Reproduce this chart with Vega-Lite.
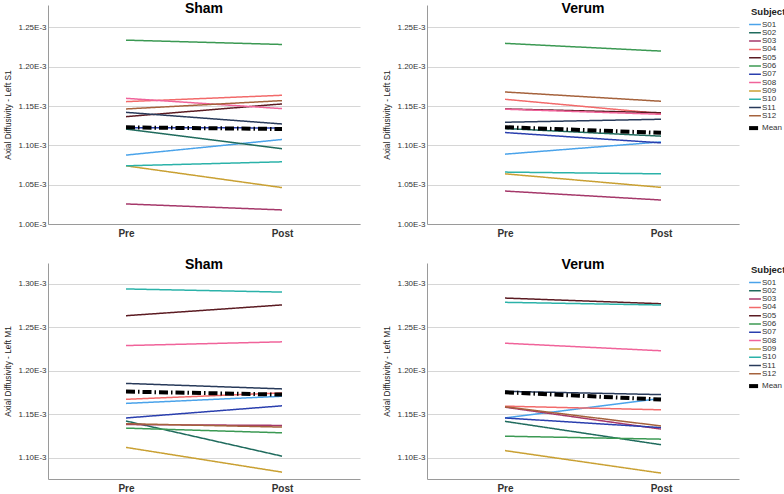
{
  "$schema": "https://vega.github.io/schema/vega-lite/v6.json",
  "padding": {"left": 3, "top": 1, "right": 0, "bottom": 0},
  "background": "white",
  "datasets": {
    "d": [
      {"r":"S1","c":"Sham","t":"Pre","s":"S01","v":1.0876e-3},{"r":"S1","c":"Sham","t":"Post","s":"S01","v":1.1075e-3},
      {"r":"S1","c":"Sham","t":"Pre","s":"S02","v":1.1208e-3},{"r":"S1","c":"Sham","t":"Post","s":"S02","v":1.0957e-3},
      {"r":"S1","c":"Sham","t":"Pre","s":"S03","v":1.0255e-3},{"r":"S1","c":"Sham","t":"Post","s":"S03","v":1.0179e-3},
      {"r":"S1","c":"Sham","t":"Pre","s":"S04","v":1.1556e-3},{"r":"S1","c":"Sham","t":"Post","s":"S04","v":1.1637e-3},
      {"r":"S1","c":"Sham","t":"Pre","s":"S05","v":1.1365e-3},{"r":"S1","c":"Sham","t":"Post","s":"S05","v":1.1527e-3},
      {"r":"S1","c":"Sham","t":"Pre","s":"S06","v":1.2338e-3},{"r":"S1","c":"Sham","t":"Post","s":"S06","v":1.2283e-3},
      {"r":"S1","c":"Sham","t":"Pre","s":"S07","v":1.1224e-3},{"r":"S1","c":"Sham","t":"Post","s":"S07","v":1.1222e-3},
      {"r":"S1","c":"Sham","t":"Pre","s":"S08","v":1.1598e-3},{"r":"S1","c":"Sham","t":"Post","s":"S08","v":1.1467e-3},
      {"r":"S1","c":"Sham","t":"Pre","s":"S09","v":1.0740e-3},{"r":"S1","c":"Sham","t":"Post","s":"S09","v":1.0463e-3},
      {"r":"S1","c":"Sham","t":"Pre","s":"S10","v":1.0740e-3},{"r":"S1","c":"Sham","t":"Post","s":"S10","v":1.0791e-3},
      {"r":"S1","c":"Sham","t":"Pre","s":"S11","v":1.1420e-3},{"r":"S1","c":"Sham","t":"Post","s":"S11","v":1.1272e-3},
      {"r":"S1","c":"Sham","t":"Pre","s":"S12","v":1.1463e-3},{"r":"S1","c":"Sham","t":"Post","s":"S12","v":1.1569e-3},
      {"r":"S1","c":"Sham","t":"Pre","s":"Mean","v":1.1229e-3},{"r":"S1","c":"Sham","t":"Post","s":"Mean","v":1.1208e-3},

      {"r":"S1","c":"Verum","t":"Pre","s":"S01","v":1.0888e-3},{"r":"S1","c":"Verum","t":"Post","s":"S01","v":1.1044e-3},
      {"r":"S1","c":"Verum","t":"Pre","s":"S02","v":1.1214e-3},{"r":"S1","c":"Verum","t":"Post","s":"S02","v":1.1117e-3},
      {"r":"S1","c":"Verum","t":"Pre","s":"S03","v":1.0419e-3},{"r":"S1","c":"Verum","t":"Post","s":"S03","v":1.0305e-3},
      {"r":"S1","c":"Verum","t":"Pre","s":"S04","v":1.1586e-3},{"r":"S1","c":"Verum","t":"Post","s":"S04","v":1.1405e-3},
      {"r":"S1","c":"Verum","t":"Pre","s":"S05","v":1.1463e-3},{"r":"S1","c":"Verum","t":"Post","s":"S05","v":1.1415e-3},
      {"r":"S1","c":"Verum","t":"Pre","s":"S06","v":1.2297e-3},{"r":"S1","c":"Verum","t":"Post","s":"S06","v":1.2199e-3},
      {"r":"S1","c":"Verum","t":"Pre","s":"S07","v":1.1163e-3},{"r":"S1","c":"Verum","t":"Post","s":"S07","v":1.1032e-3},
      {"r":"S1","c":"Verum","t":"Pre","s":"S08","v":1.1460e-3},{"r":"S1","c":"Verum","t":"Post","s":"S08","v":1.1395e-3},
      {"r":"S1","c":"Verum","t":"Pre","s":"S09","v":1.0638e-3},{"r":"S1","c":"Verum","t":"Post","s":"S09","v":1.0466e-3},
      {"r":"S1","c":"Verum","t":"Pre","s":"S10","v":1.0660e-3},{"r":"S1","c":"Verum","t":"Post","s":"S10","v":1.0638e-3},
      {"r":"S1","c":"Verum","t":"Pre","s":"S11","v":1.1294e-3},{"r":"S1","c":"Verum","t":"Post","s":"S11","v":1.1332e-3},
      {"r":"S1","c":"Verum","t":"Pre","s":"S12","v":1.1679e-3},{"r":"S1","c":"Verum","t":"Post","s":"S12","v":1.1561e-3},
      {"r":"S1","c":"Verum","t":"Pre","s":"Mean","v":1.1231e-3},{"r":"S1","c":"Verum","t":"Post","s":"Mean","v":1.1159e-3},

      {"r":"M1","c":"Sham","t":"Pre","s":"S01","v":1.1624e-3},{"r":"M1","c":"Sham","t":"Post","s":"S01","v":1.1706e-3},
      {"r":"M1","c":"Sham","t":"Pre","s":"S02","v":1.1421e-3},{"r":"M1","c":"Sham","t":"Post","s":"S02","v":1.1016e-3},
      {"r":"M1","c":"Sham","t":"Pre","s":"S03","v":1.1380e-3},{"r":"M1","c":"Sham","t":"Post","s":"S03","v":1.1370e-3},
      {"r":"M1","c":"Sham","t":"Pre","s":"S04","v":1.1671e-3},{"r":"M1","c":"Sham","t":"Post","s":"S04","v":1.1745e-3},
      {"r":"M1","c":"Sham","t":"Pre","s":"S05","v":1.2634e-3},{"r":"M1","c":"Sham","t":"Post","s":"S05","v":1.2758e-3},
      {"r":"M1","c":"Sham","t":"Pre","s":"S06","v":1.1339e-3},{"r":"M1","c":"Sham","t":"Post","s":"S06","v":1.1285e-3},
      {"r":"M1","c":"Sham","t":"Pre","s":"S07","v":1.1456e-3},{"r":"M1","c":"Sham","t":"Post","s":"S07","v":1.1596e-3},
      {"r":"M1","c":"Sham","t":"Pre","s":"S08","v":1.2290e-3},{"r":"M1","c":"Sham","t":"Post","s":"S08","v":1.2333e-3},
      {"r":"M1","c":"Sham","t":"Pre","s":"S09","v":1.1117e-3},{"r":"M1","c":"Sham","t":"Post","s":"S09","v":1.0832e-3},
      {"r":"M1","c":"Sham","t":"Pre","s":"S10","v":1.2942e-3},{"r":"M1","c":"Sham","t":"Post","s":"S10","v":1.2906e-3},
      {"r":"M1","c":"Sham","t":"Pre","s":"S11","v":1.1854e-3},{"r":"M1","c":"Sham","t":"Post","s":"S11","v":1.1791e-3},
      {"r":"M1","c":"Sham","t":"Pre","s":"S12","v":1.1390e-3},{"r":"M1","c":"Sham","t":"Post","s":"S12","v":1.1351e-3},
      {"r":"M1","c":"Sham","t":"Pre","s":"Mean","v":1.1760e-3},{"r":"M1","c":"Sham","t":"Post","s":"Mean","v":1.1725e-3},

      {"r":"M1","c":"Verum","t":"Pre","s":"S01","v":1.1456e-3},{"r":"M1","c":"Verum","t":"Post","s":"S01","v":1.1681e-3},
      {"r":"M1","c":"Verum","t":"Pre","s":"S02","v":1.1417e-3},{"r":"M1","c":"Verum","t":"Post","s":"S02","v":1.1148e-3},
      {"r":"M1","c":"Verum","t":"Pre","s":"S03","v":1.1580e-3},{"r":"M1","c":"Verum","t":"Post","s":"S03","v":1.1328e-3},
      {"r":"M1","c":"Verum","t":"Pre","s":"S04","v":1.1592e-3},{"r":"M1","c":"Verum","t":"Post","s":"S04","v":1.1550e-3},
      {"r":"M1","c":"Verum","t":"Pre","s":"S05","v":1.2837e-3},{"r":"M1","c":"Verum","t":"Post","s":"S05","v":1.2772e-3},
      {"r":"M1","c":"Verum","t":"Pre","s":"S06","v":1.1246e-3},{"r":"M1","c":"Verum","t":"Post","s":"S06","v":1.1212e-3},
      {"r":"M1","c":"Verum","t":"Pre","s":"S07","v":1.1456e-3},{"r":"M1","c":"Verum","t":"Post","s":"S07","v":1.1345e-3},
      {"r":"M1","c":"Verum","t":"Pre","s":"S08","v":1.2317e-3},{"r":"M1","c":"Verum","t":"Post","s":"S08","v":1.2230e-3},
      {"r":"M1","c":"Verum","t":"Pre","s":"S09","v":1.1080e-3},{"r":"M1","c":"Verum","t":"Post","s":"S09","v":1.0821e-3},
      {"r":"M1","c":"Verum","t":"Pre","s":"S10","v":1.2788e-3},{"r":"M1","c":"Verum","t":"Post","s":"S10","v":1.2757e-3},
      {"r":"M1","c":"Verum","t":"Pre","s":"S11","v":1.1763e-3},{"r":"M1","c":"Verum","t":"Post","s":"S11","v":1.1725e-3},
      {"r":"M1","c":"Verum","t":"Pre","s":"S12","v":1.1585e-3},{"r":"M1","c":"Verum","t":"Post","s":"S12","v":1.1364e-3},
      {"r":"M1","c":"Verum","t":"Pre","s":"Mean","v":1.1752e-3},{"r":"M1","c":"Verum","t":"Post","s":"Mean","v":1.1668e-3}
    ]
  },
  "config": {
    "font": "Liberation Sans",
    "view": {"stroke": null},
    "axis": {"labelColor": "#333333", "titleColor": "#222222", "domainColor": "#9a9a9a", "gridColor": "#d6d6d6", "gridWidth": 1.2},
    "axisY": {"labelFontSize": 8, "titleFontSize": 8.3, "titleFontWeight": "normal", "ticks": false, "labelPadding": 2, "titlePadding": 5, "grid": true},
    "axisX": {"labelFontSize": 10, "labelFontWeight": "bold", "ticks": false, "grid": false, "labelPadding": 4, "labelAngle": 0},
    "title": {"fontSize": 14, "fontWeight": "bold", "color": "#000000"},
    "legend": {"titleFontSize": 9.5, "titleFontWeight": "bold", "titleColor": "#222222", "labelFontSize": 8, "labelColor": "#333333", "symbolType": "stroke", "symbolSize": 140, "symbolStrokeWidth": 1.5, "rowPadding": 0.3, "offset": 10, "padding": 2, "titlePadding": 4, "labelOffset": 3}
  },
  "spacing": 20,
  "resolve": {"scale": {"color": "independent", "strokeDash": "independent"}},
  "vconcat": [
    {
      "spacing": 22,
      "hconcat": [
        {
          "width": 312, "height": 219,
          "title": {"text": "Sham", "offset": -10.5},
          "data": {"name": "d"},
          "transform": [{"filter": "datum.r === 'S1' && datum.c === 'Sham'"}],
          "mark": {"type": "line"},
          "encoding": {
            "x": {"field": "t", "type": "nominal", "sort": ["Pre", "Post"], "scale": {"type": "point", "padding": 0.5}, "axis": {"title": null}},
            "y": {"field": "v", "type": "quantitative", "scale": {"domain": [0.001, 0.0012785], "nice": false, "zero": false}, "axis": {"title": "Axial Diffusivity - Left S1", "values": [0.001, 0.00105, 0.0011, 0.00115, 0.0012, 0.00125], "labelExpr": "format(datum.value*1000,'.2f')+'E-3'"}},
            "color": {"field": "s", "type": "nominal", "title": "Subject", "scale": {"domain": ["S01","S02","S03","S04","S05","S06","S07","S08","S09","S10","S11","S12","Mean"], "range": ["#4aa3ea","#1f6b5d","#a5386a","#f26a6a","#5b1b22","#3b9953","#2a3fae","#f0639a","#c9a032","#2bb2a9","#283a5a","#a5623c","#000000"]}, "legend": {"encode": {"symbols": {"update": {"strokeWidth": {"signal": "datum.value === 'Mean' ? 4 : 1.5"}}}}}},
            "strokeDash": {"field": "s", "type": "nominal", "title": "Subject", "scale": {"domain": ["S01","S02","S03","S04","S05","S06","S07","S08","S09","S10","S11","S12","Mean"], "range": [[1,0],[1,0],[1,0],[1,0],[1,0],[1,0],[1,0],[1,0],[1,0],[1,0],[1,0],[1,0],[9,3,1.5,3]]}, "legend": {"encode": {"symbols": {"update": {"strokeWidth": {"signal": "datum.value === 'Mean' ? 4 : 1.5"}}}}}},
            "strokeWidth": {"condition": {"test": "datum.s === 'Mean'", "value": 4}, "value": 1.5}
          }
        },
        {
          "width": 312, "height": 219,
          "title": {"text": "Verum", "offset": -10.5},
          "data": {"name": "d"},
          "transform": [{"filter": "datum.r === 'S1' && datum.c === 'Verum'"}],
          "mark": {"type": "line"},
          "encoding": {
            "x": {"field": "t", "type": "nominal", "sort": ["Pre", "Post"], "scale": {"type": "point", "padding": 0.5}, "axis": {"title": null}},
            "y": {"field": "v", "type": "quantitative", "scale": {"domain": [0.001, 0.0012785], "nice": false, "zero": false}, "axis": {"title": "Axial Diffusivity - Left S1", "values": [0.001, 0.00105, 0.0011, 0.00115, 0.0012, 0.00125], "labelExpr": "format(datum.value*1000,'.2f')+'E-3'"}},
            "color": {"field": "s", "type": "nominal", "title": "Subject", "scale": {"domain": ["S01","S02","S03","S04","S05","S06","S07","S08","S09","S10","S11","S12","Mean"], "range": ["#4aa3ea","#1f6b5d","#a5386a","#f26a6a","#5b1b22","#3b9953","#2a3fae","#f0639a","#c9a032","#2bb2a9","#283a5a","#a5623c","#000000"]}, "legend": {"encode": {"symbols": {"update": {"strokeWidth": {"signal": "datum.value === 'Mean' ? 4 : 1.5"}}}}}},
            "strokeDash": {"field": "s", "type": "nominal", "title": "Subject", "scale": {"domain": ["S01","S02","S03","S04","S05","S06","S07","S08","S09","S10","S11","S12","Mean"], "range": [[1,0],[1,0],[1,0],[1,0],[1,0],[1,0],[1,0],[1,0],[1,0],[1,0],[1,0],[1,0],[9,3,1.5,3]]}, "legend": {"encode": {"symbols": {"update": {"strokeWidth": {"signal": "datum.value === 'Mean' ? 4 : 1.5"}}}}}},
            "strokeWidth": {"condition": {"test": "datum.s === 'Mean'", "value": 4}, "value": 1.5}
          }
        }
      ]
    },
    {
      "spacing": 22,
      "hconcat": [
        {
          "width": 312, "height": 216,
          "title": {"text": "Sham", "offset": -9},
          "data": {"name": "d"},
          "transform": [{"filter": "datum.r === 'M1' && datum.c === 'Sham'"}],
          "mark": {"type": "line"},
          "encoding": {
            "x": {"field": "t", "type": "nominal", "sort": ["Pre", "Post"], "scale": {"type": "point", "padding": 0.5}, "axis": {"title": null}},
            "y": {"field": "v", "type": "quantitative", "scale": {"domain": [0.0010753, 0.0013241], "nice": false, "zero": false}, "axis": {"title": "Axial Diffusivity - Left M1", "values": [0.0011, 0.00115, 0.0012, 0.00125, 0.0013], "labelExpr": "format(datum.value*1000,'.2f')+'E-3'"}},
            "color": {"field": "s", "type": "nominal", "title": "Subject", "scale": {"domain": ["S01","S02","S03","S04","S05","S06","S07","S08","S09","S10","S11","S12","Mean"], "range": ["#4aa3ea","#1f6b5d","#a5386a","#f26a6a","#5b1b22","#3b9953","#2a3fae","#f0639a","#c9a032","#2bb2a9","#283a5a","#a5623c","#000000"]}, "legend": {"encode": {"symbols": {"update": {"strokeWidth": {"signal": "datum.value === 'Mean' ? 4 : 1.5"}}}}}},
            "strokeDash": {"field": "s", "type": "nominal", "title": "Subject", "scale": {"domain": ["S01","S02","S03","S04","S05","S06","S07","S08","S09","S10","S11","S12","Mean"], "range": [[1,0],[1,0],[1,0],[1,0],[1,0],[1,0],[1,0],[1,0],[1,0],[1,0],[1,0],[1,0],[9,3,1.5,3]]}, "legend": {"encode": {"symbols": {"update": {"strokeWidth": {"signal": "datum.value === 'Mean' ? 4 : 1.5"}}}}}},
            "strokeWidth": {"condition": {"test": "datum.s === 'Mean'", "value": 4}, "value": 1.5}
          }
        },
        {
          "width": 312, "height": 216,
          "title": {"text": "Verum", "offset": -9},
          "data": {"name": "d"},
          "transform": [{"filter": "datum.r === 'M1' && datum.c === 'Verum'"}],
          "mark": {"type": "line"},
          "encoding": {
            "x": {"field": "t", "type": "nominal", "sort": ["Pre", "Post"], "scale": {"type": "point", "padding": 0.5}, "axis": {"title": null}},
            "y": {"field": "v", "type": "quantitative", "scale": {"domain": [0.0010753, 0.0013241], "nice": false, "zero": false}, "axis": {"title": "Axial Diffusivity - Left M1", "values": [0.0011, 0.00115, 0.0012, 0.00125, 0.0013], "labelExpr": "format(datum.value*1000,'.2f')+'E-3'"}},
            "color": {"field": "s", "type": "nominal", "title": "Subject", "scale": {"domain": ["S01","S02","S03","S04","S05","S06","S07","S08","S09","S10","S11","S12","Mean"], "range": ["#4aa3ea","#1f6b5d","#a5386a","#f26a6a","#5b1b22","#3b9953","#2a3fae","#f0639a","#c9a032","#2bb2a9","#283a5a","#a5623c","#000000"]}, "legend": {"encode": {"symbols": {"update": {"strokeWidth": {"signal": "datum.value === 'Mean' ? 4 : 1.5"}}}}}},
            "strokeDash": {"field": "s", "type": "nominal", "title": "Subject", "scale": {"domain": ["S01","S02","S03","S04","S05","S06","S07","S08","S09","S10","S11","S12","Mean"], "range": [[1,0],[1,0],[1,0],[1,0],[1,0],[1,0],[1,0],[1,0],[1,0],[1,0],[1,0],[1,0],[9,3,1.5,3]]}, "legend": {"encode": {"symbols": {"update": {"strokeWidth": {"signal": "datum.value === 'Mean' ? 4 : 1.5"}}}}}},
            "strokeWidth": {"condition": {"test": "datum.s === 'Mean'", "value": 4}, "value": 1.5}
          }
        }
      ]
    }
  ]
}
